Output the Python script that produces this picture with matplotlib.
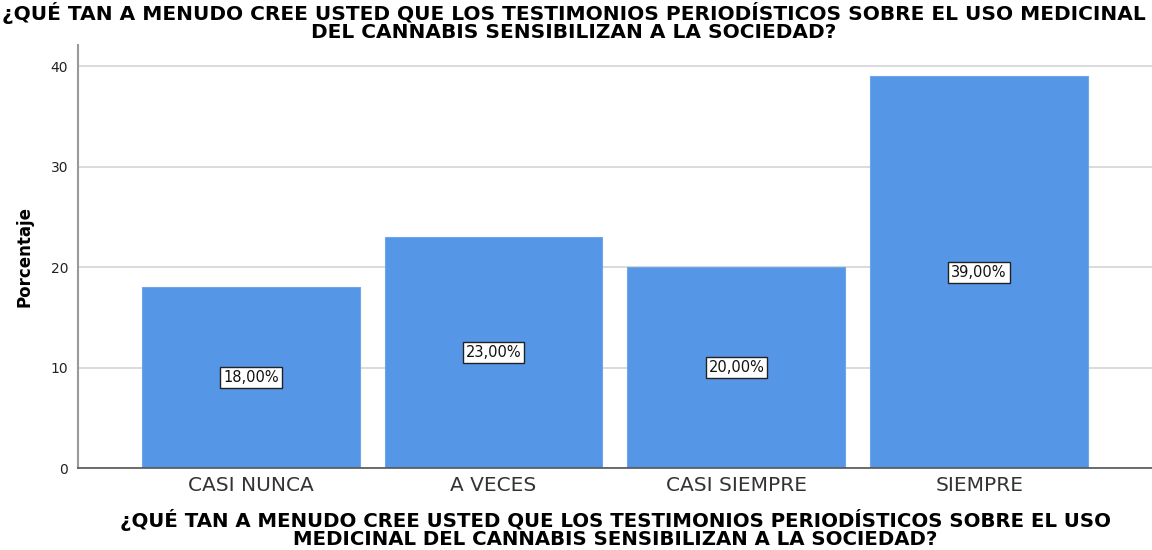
import matplotlib.pyplot as plt

categorias = ["CASI NUNCA", "A VECES", "CASI SIEMPRE", "SIEMPRE"]
porcentajes = [18.0, 23.0, 20.0, 39.0]
etiquetas = ["18,00%", "23,00%", "20,00%", "39,00%"]

titulo = ("¿QUÉ TAN A MENUDO CREE USTED QUE LOS TESTIMONIOS PERIODÍSTICOS SOBRE EL USO MEDICINAL\n"
          "DEL CANNABIS SENSIBILIZAN A LA SOCIEDAD?")
eje_x = ("¿QUÉ TAN A MENUDO CREE USTED QUE LOS TESTIMONIOS PERIODÍSTICOS SOBRE EL USO\n"
         "MEDICINAL DEL CANNABIS SENSIBILIZAN A LA SOCIEDAD?")

plt.rcParams['font.family'] = ['DejaVu Sans']

fig = plt.figure(figsize=(11.52, 5.5), dpi=100)
ax = fig.add_axes([0.0677, 0.149, 0.9323, 0.769])

x = range(len(categorias))
slupki = ax.bar(x, porcentajes, width=0.897, color='#5596e6', edgecolor='#6fa6ea', linewidth=0.8, zorder=2)

for s, t in zip(slupki, etiquetas):
    h = s.get_height()
    ax.text(s.get_x() + s.get_width() / 2, h / 2, t, ha='center', va='center', fontsize=10.5,
            color='#111111',
            bbox=dict(boxstyle='square,pad=0.2', facecolor='white', edgecolor='#222222', linewidth=1),
            zorder=3)

ax.set_xlim(-0.712, 3.712)
ax.set_ylim(0, 42.1)
ax.set_yticks([0, 10, 20, 30, 40])
ax.yaxis.grid(True, color='#d4d4d4', linewidth=1.2, zorder=0)
ax.set_axisbelow(True)
ax.set_xticks(list(x))
ax.set_xticklabels(categorias, fontsize=14.5, color='#333333')
ax.tick_params(axis='x', length=0, pad=6)
ax.tick_params(axis='y', length=0, labelsize=10, pad=7, labelcolor='#222222')

for lado in ['top', 'right']:
    ax.spines[lado].set_visible(False)
ax.spines['left'].set_color('#999999')
ax.spines['left'].set_linewidth(1.5)
ax.spines['bottom'].set_color('#555555')
ax.spines['bottom'].set_linewidth(1.2)

ax.set_ylabel('Porcentaje', fontsize=12, fontweight='bold', labelpad=12)
fig.text(0.498, 0.997, titulo, ha='center', va='top', fontsize=14.5, fontweight='bold', linespacing=0.95)
fig.text(0.534, 0.001, eje_x, ha='center', va='bottom', fontsize=14.2, fontweight='bold', linespacing=0.95)

plt.savefig('out.png', dpi=100)
